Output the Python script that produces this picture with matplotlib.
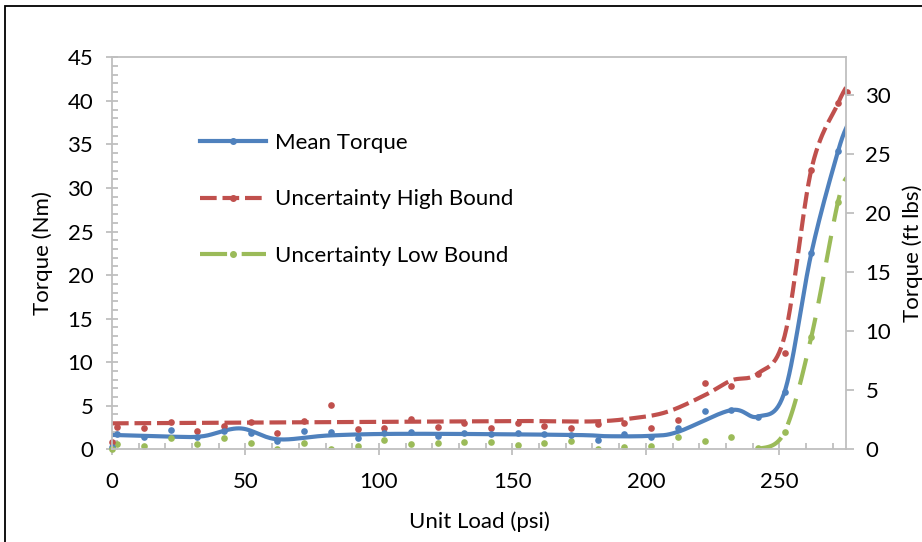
import numpy as np
import matplotlib
matplotlib.use("Agg")
import matplotlib.pyplot as plt
from matplotlib.lines import Line2D
from matplotlib.patches import Rectangle
from matplotlib.ticker import MultipleLocator

plt.rcParams['font.family'] = ['Lato', 'DejaVu Sans']

# measured points (unit load psi, torque Nm)
load_pts = [2, 12, 22, 32, 42, 52, 62, 72, 82, 92, 102, 112, 122, 132, 142,
            152, 162, 172, 182, 192, 202, 212, 222, 232, 242, 252, 262, 272]
mean_pts = [1.7, 1.45, 2.2, 1.45, 2.1, 1.85, 1.0, 2.1, 2.0, 1.3, 1.85, 2.0, 1.55, 1.9,
            1.7, 1.85, 1.7, 1.6, 1.1, 1.75, 1.45, 2.4, 4.35, 4.5, 3.75, 6.6, 22.5, 34.2]
high_pts = [2.6, 2.4, 3.1, 2.15, 2.65, 3.1, 1.9, 3.25, 5.1, 2.3, 2.4, 3.5, 2.6, 3.0,
            2.5, 3.0, 2.7, 2.5, 2.95, 3.05, 2.4, 3.35, 7.6, 7.3, 8.7, 11.0, 32.1, 39.7]
low_pts = [0.6, 0.4, 1.3, 0.6, 1.3, 0.7, 0.0, 0.75, 0.0, 0.4, 1.05, 0.6, 0.7, 0.85,
           0.8, 0.55, 0.7, 1.0, 0.0, 0.25, 0.4, 1.45, 1.0, 1.45, 0.1, 2.0, 12.9, 28.4]

# extra points at the axis ends
edge_load = [0, 0, 0, 275.5]
edge_val = [0.8, 0.3, 0.0, 41.0]
edge_series = ['high', 'mean', 'low', 'high']

# smoothed trend knots
mean_knot_x = [0, 22, 34, 48, 62, 82, 112, 172, 186, 202, 212, 232, 242, 252, 262, 272, 276]
mean_knot_y = [1.65, 1.45, 1.5, 2.4, 1.15, 1.6, 1.78, 1.65, 1.5, 1.55, 2.0, 4.5, 3.75, 6.6, 22.5, 34.2, 37.5]
high_knot_x = [0, 40, 100, 150, 180, 195, 208, 222, 232, 242, 252, 262, 272, 276]
high_knot_y = [2.98, 3.05, 3.15, 3.25, 3.2, 3.56, 4.3, 6.2, 7.9, 8.7, 13.0, 32.1, 39.7, 42.0]
low_knot_x = [242, 252, 262, 272, 276]
low_knot_y = [0.0, 2.0, 12.9, 28.4, 31.5]

labels = ['Mean Torque', 'Uncertainty High Bound', 'Uncertainty Low Bound']
BLUE = '#4F81BD'
RED = '#C0504D'
GREEN = '#9BBB59'
GRAY = '#BFBFBF'
NM_TO_FTLB = 0.7376
FS = 16


def smooth(xs, ys, n=30):
    # Catmull-Rom style smoothing, like a spreadsheet's smoothed line
    p = np.column_stack([xs, ys]).astype(float)
    p = np.vstack([p[0], p, p[-1]])
    out = []
    for i in range(1, len(p) - 2):
        p0, p1, p2, p3 = p[i - 1], p[i], p[i + 1], p[i + 2]
        t = np.linspace(0, 1, n)[:, None]
        seg = 0.5 * ((2 * p1) + (-p0 + p2) * t + (2 * p0 - 5 * p1 + 4 * p2 - p3) * t ** 2
                     + (-p0 + 3 * p1 - 3 * p2 + p3) * t ** 3)
        out.append(seg)
    out = np.vstack(out)
    return out[:, 0], out[:, 1]


fig = plt.figure(figsize=(9.22, 5.42), dpi=100)
ax = fig.add_axes([112 / 922, 1 - 449.3 / 542, 734 / 922, 392 / 542])

ms = 4.8
styles = {
    'mean': dict(color=BLUE, lw=3.0, ls='-'),
    'high': dict(color=RED, lw=3.0, ls=(0, (4.0, 1.4))),
    'low': dict(color=GREEN, lw=3.0, ls=(0, (6.5, 3.5))),
}

sx, sy = smooth(high_knot_x, high_knot_y)
ax.plot(sx, sy, **styles['high'], dash_capstyle='butt')
sx, sy = smooth(low_knot_x, low_knot_y)
ax.plot(sx, sy, **styles['low'], dash_capstyle='butt')
sx, sy = smooth(mean_knot_x, mean_knot_y)
ax.plot(sx, sy, **styles['mean'])

ax.plot(load_pts, low_pts, 'o', color=GREEN, ms=ms, mec='none')
ax.plot(load_pts, high_pts, 'o', color=RED, ms=ms, mec='none')
ax.plot(load_pts, mean_pts, 'o', color=BLUE, ms=ms, mec='none')
cmap = {'mean': BLUE, 'high': RED, 'low': GREEN}
for x, y, s in zip(edge_load, edge_val, edge_series):
    ax.plot(x, y, 'o', color=cmap[s], ms=ms, mec='none', clip_on=False)

ax.set_xlim(0, 275)
ax.set_ylim(0, 45)
ax.xaxis.set_major_locator(MultipleLocator(50))
ax.xaxis.set_minor_locator(MultipleLocator(10))
ax.yaxis.set_major_locator(MultipleLocator(5))
ax.yaxis.set_minor_locator(MultipleLocator(1))
for s in ax.spines.values():
    s.set_color(GRAY)
    s.set_linewidth(1.3)
ax.tick_params(which='major', direction='inout', length=9, width=1.3, color=GRAY,
               labelsize=FS, pad=9)
ax.tick_params(which='minor', direction='in', length=4, width=1.3, color=GRAY)
ax.tick_params(axis='x', which='major', pad=12)

ax.set_xlabel('Unit Load (psi)', fontsize=FS)
ax.set_ylabel('Torque (Nm)', fontsize=FS)
ax.xaxis.set_label_coords(0.5, -0.158)
ax.yaxis.set_label_coords(-0.08, 0.5)

ax2 = ax.twinx()
ax2.set_ylim(0, 45 * NM_TO_FTLB)
ax2.yaxis.set_major_locator(MultipleLocator(5))
for s in ax2.spines.values():
    s.set_visible(False)
ax2.tick_params(axis='y', direction='out', length=6, width=1.3, color=GRAY,
                labelsize=FS, pad=8)
ax2.set_ylabel('Torque (ft lbs)', fontsize=FS)
ax2.yaxis.set_label_coords(1.0763, 0.5)

handles = [Line2D([], [], marker='o', ms=4, **styles['mean']),
           Line2D([], [], marker='o', ms=4, **styles['high']),
           Line2D([], [], marker='o', ms=4, **styles['low'])]
ax.legend(handles, labels, loc='upper left', bbox_to_anchor=(0.092, 0.858),
          frameon=False, fontsize=FS, handlelength=3.0, handletextpad=0.4,
          labelspacing=1.64)

fig.patches.append(Rectangle((5 / 922, -0.1), 1.2, 1 - 6 / 542 + 0.1,
                             transform=fig.transFigure, fill=False,
                             edgecolor='black', lw=1.3))

fig.savefig('out.png', dpi=100)
